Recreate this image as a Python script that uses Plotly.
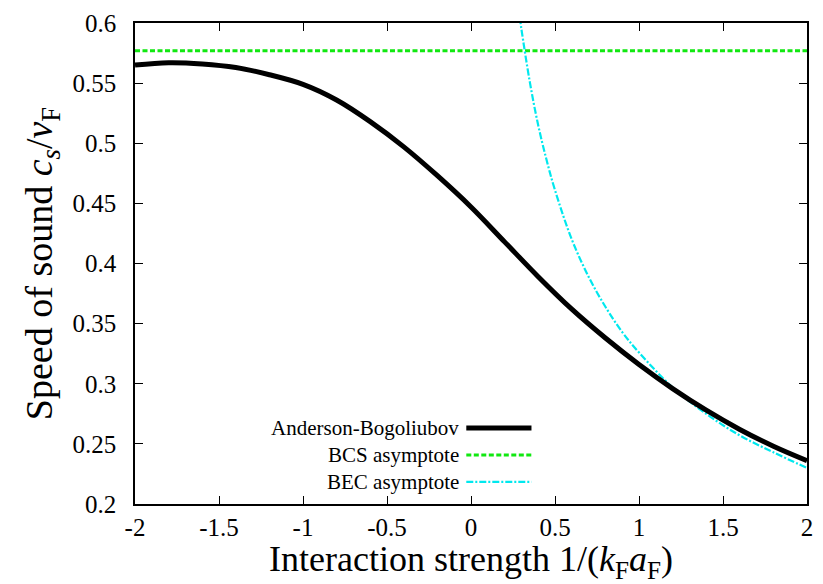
import plotly.graph_objects as go

# Anderson-Bogoliubov speed of sound
ab_x = [-2.0, -1.8, -1.6, -1.4, -1.2, -1.0, -0.8, -0.6, -0.4, -0.2, 0.0,
        0.2, 0.4, 0.6, 0.8, 1.0, 1.2, 1.4, 1.6, 1.8, 2.0]
ab_y = [0.565, 0.567, 0.566, 0.563, 0.557, 0.549, 0.536, 0.518, 0.497, 0.473, 0.447,
        0.418, 0.389, 0.362, 0.338, 0.316, 0.296, 0.278, 0.262, 0.248, 0.236]

# BCS asymptote
bcs_x = [-2.0, 2.0]
bcs_y = [0.577, 0.577]

# BEC asymptote
bec_x = [0.29, 0.3, 0.35, 0.4, 0.45, 0.5, 0.6, 0.7, 0.8, 0.9, 1.0,
         1.2, 1.4, 1.6, 1.8, 2.0]
bec_y = [0.605, 0.595, 0.551, 0.515, 0.486, 0.461, 0.420, 0.389, 0.364, 0.343, 0.326,
         0.297, 0.275, 0.257, 0.243, 0.230]

x_ticks = [-2, -1.5, -1, -0.5, 0, 0.5, 1, 1.5, 2]
x_tick_text = ["-2", "-1.5", "-1", "-0.5", "0", "0.5", "1", "1.5", "2"]
y_ticks = [0.2, 0.25, 0.3, 0.35, 0.4, 0.45, 0.5, 0.55, 0.6]
y_tick_text = ["0.2", "0.25", "0.3", "0.35", "0.4", "0.45", "0.5", "0.55", "0.6"]

legend_names = ["Anderson-Bogoliubov", "BCS asymptote", "BEC asymptote"]
line_colors = ["black", "#11e811", "#00e8ee"]

FONT = "Liberation Serif, DejaVu Serif, serif"

fig = go.Figure()
fig.add_trace(go.Scatter(x=bcs_x, y=bcs_y, mode="lines",
                         line=dict(color=line_colors[1], width=3, dash="5px,2.5px"),
                         name=legend_names[1]))
fig.add_trace(go.Scatter(x=bec_x, y=bec_y, mode="lines", line_shape="spline",
                         line=dict(color=line_colors[2], width=2.2, dash="7px,2px,2px,2px"),
                         name=legend_names[2]))
fig.add_trace(go.Scatter(x=ab_x, y=ab_y, mode="lines", line_shape="spline",
                         line=dict(color=line_colors[0], width=5),
                         name=legend_names[0]))

# gnuplot-style legend: text right aligned, sample line to the right
leg_y = [0.158, 0.102, 0.046]
dashes = ["solid", "5px,2.5px", "7px,2px,2px,2px"]
widths = [5, 3, 2.2]
for name, col, yy, d, w in zip(legend_names, line_colors, leg_y, dashes, widths):
    fig.add_annotation(xref="paper", yref="paper", x=0.484, y=yy, text=name,
                       showarrow=False, xanchor="right", yanchor="middle", borderpad=0,
                       font=dict(family=FONT, size=21, color="black"))
    fig.add_shape(type="line", xref="paper", yref="paper", x0=0.493, x1=0.59,
                  y0=yy, y1=yy, line=dict(color=col, width=w, dash=d))

axis_common = dict(showline=True, linecolor="black", linewidth=1.5, mirror="allticks",
                   ticks="inside", ticklen=8, tickcolor="black", tickwidth=1,
                   showgrid=False, zeroline=False,
                   tickfont=dict(family=FONT, size=25, color="black"))

fig.update_xaxes(range=[-2, 2], tickvals=x_ticks, ticktext=x_tick_text,
                 title=dict(text="Interaction strength 1/(<i>k</i><sub>F</sub><i>a</i><sub>F</sub>)",
                            font=dict(family=FONT, size=36, color="black"), standoff=6),
                 **axis_common)
fig.update_yaxes(range=[0.2, 0.6], tickvals=y_ticks, ticktext=y_tick_text,
                 ticklabelstandoff=12,
                 title=dict(text="Speed of sound <i>c<sub>s</sub></i>/<i>v</i><sub>F</sub>",
                            font=dict(family=FONT, size=38, color="black"), standoff=8),
                 **axis_common)

fig.update_layout(width=823, height=584, showlegend=False,
                  margin=dict(l=135, r=10, t=20, b=80),
                  plot_bgcolor="white", paper_bgcolor="white",
                  font=dict(family=FONT))

fig.write_html("out.html", config={"displayModeBar": False},
               post_script="document.body.style.margin='0';document.body.style.padding='0';")
